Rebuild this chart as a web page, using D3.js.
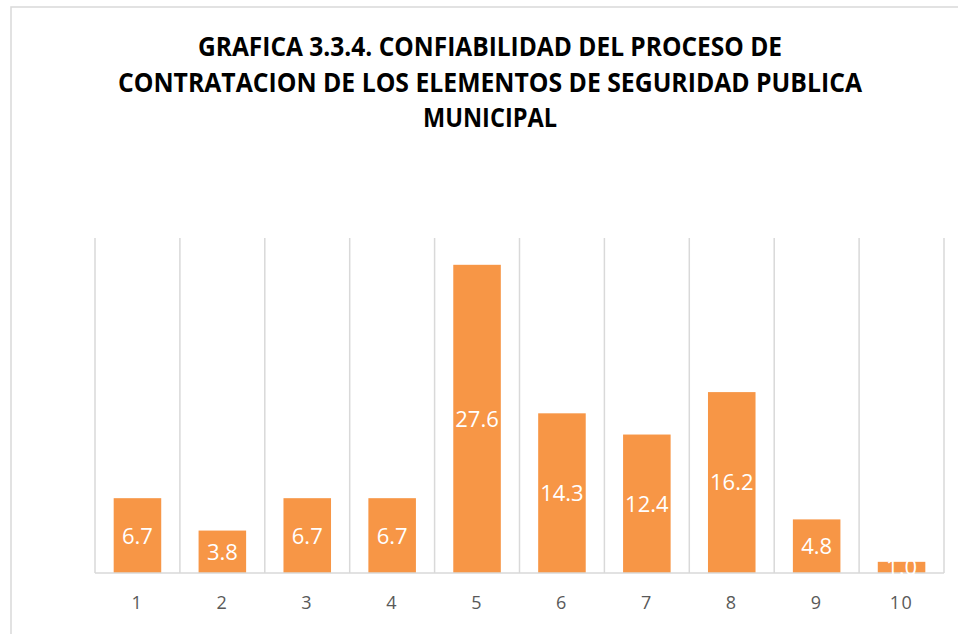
<!DOCTYPE html>
<html>
<head>
<meta charset="utf-8">
<script src="https://cdn.jsdelivr.net/npm/d3@7"></script>
<style>
  html, body { margin: 0; padding: 0; background: #ffffff; }
  svg { display: block; }
</style>
</head>
<body>
<svg id="chart" width="958" height="634"></svg>
<script>
const categories = ["1", "2", "3", "4", "5", "6", "7", "8", "9", "10"];
const values = [6.7, 3.8, 6.7, 6.7, 27.6, 14.3, 12.4, 16.2, 4.8, 1.0];
const titleLines = [
  "GRAFICA 3.3.4. CONFIABILIDAD DEL PROCESO DE",
  "CONTRATACION DE LOS ELEMENTOS DE SEGURIDAD PUBLICA",
  "MUNICIPAL"
];
const yDomain = [0, 30];

(function () {
const svg = d3.select("#chart");

// chart frame (extends past the bottom/right edges of the picture)
svg.append("rect")
  .attr("x", 11).attr("y", 7)
  .attr("width", 975).attr("height", 650)
  .attr("fill", "#ffffff")
  .attr("stroke", "#d9d9d9")
  .attr("stroke-width", 1.5);

// title
const titleWidths = [584, 744, 134];
const titleY = [56, 92, 127];
const title = svg.append("g");
titleLines.forEach((t, i) => {
  title.append("text")
    .attr("x", 490)
    .attr("y", titleY[i])
    .attr("text-anchor", "middle")
    .attr("font-family", "'Open Sans', sans-serif")
    .attr("font-weight", "bold")
    .attr("font-size", 26)
    .attr("fill", "#000000")
    .attr("textLength", titleWidths[i])
    .attr("lengthAdjust", "spacingAndGlyphs")
    .text(t);
});

const plotLeft = 95, plotRight = 944, plotTop = 238, plotBottom = 573;

const x = d3.scaleBand()
  .domain(categories)
  .range([plotLeft, plotRight])
  .paddingInner(0.44)
  .paddingOuter(0.22);

const y = d3.scaleLinear().domain(yDomain).range([plotBottom, plotTop]);

// vertical gridlines at category boundaries
const boundaries = d3.range(categories.length + 1).map(i => plotLeft + i * (plotRight - plotLeft) / categories.length);
svg.append("g")
  .selectAll("line")
  .data(boundaries)
  .join("line")
  .attr("x1", d => d).attr("x2", d => d)
  .attr("y1", y(yDomain[1])).attr("y2", y(0))
  .attr("stroke", "#d9d9d9")
  .attr("stroke-width", 1.5);

// bars
svg.append("g")
  .selectAll("rect")
  .data(values)
  .join("rect")
  .attr("x", (d, i) => x(categories[i]))
  .attr("y", d => y(d))
  .attr("width", x.bandwidth())
  .attr("height", d => y(0) - y(d))
  .attr("fill", "#f79646");

// x axis
const xAxis = svg.append("g")
  .attr("transform", `translate(0,${plotBottom})`)
  .call(d3.axisBottom(x).tickSize(0).tickPadding(23));
xAxis.select(".domain")
  .attr("stroke", "#d9d9d9")
  .attr("stroke-width", 1.5)
  .attr("d", `M${plotLeft},0H${plotRight}`);
xAxis.selectAll("text")
  .attr("font-family", "'Open Sans', sans-serif")
  .attr("font-size", 18)
  .attr("letter-spacing", 1.5)
  .attr("fill", "#595959");

// data labels
svg.append("g")
  .selectAll("text")
  .data(values)
  .join("text")
  .attr("x", (d, i) => x(categories[i]) + x.bandwidth() / 2)
  .attr("y", d => (y(d) + y(0)) / 2)
  .attr("dy", "0.36em")
  .attr("text-anchor", "middle")
  .attr("font-family", "'Open Sans', sans-serif")
  .attr("font-size", 22)
  .attr("fill", "#ffffff")
  .text(d => d.toFixed(1));
})();
</script>
</body>
</html>
